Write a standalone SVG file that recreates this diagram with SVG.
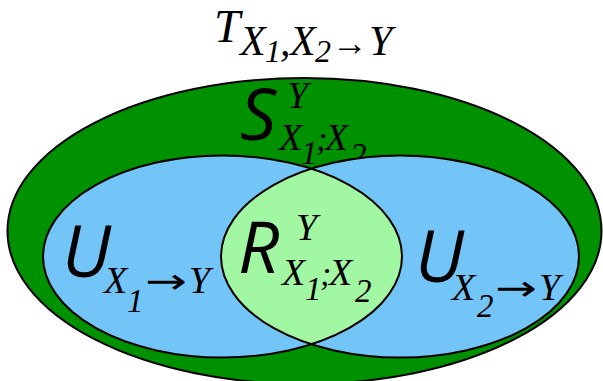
<svg xmlns="http://www.w3.org/2000/svg" width="603" height="381" viewBox="0 0 603 381">
<style>
.ell{stroke:#000;stroke-width:2}
.lbl{font-family:"Open Sans","DejaVu Sans",sans-serif;font-style:italic;fill:#000}
.big{font-size:72px}
.sub{font-family:"Liberation Serif","Times New Roman",serif;font-size:38px}
.semi{font-family:"Liberation Serif","Times New Roman",serif;font-size:34px}
.dig{font-family:"Liberation Serif","Times New Roman",serif;font-size:33px}
.arr{font-family:"DejaVu Sans",sans-serif;font-style:normal;font-size:35px}
.ttl{font-family:"Liberation Serif","Times New Roman",serif;font-style:italic;fill:#000}
</style>
<defs>
<clipPath id="clipL"><ellipse cx="222.5" cy="256.5" rx="179.5" ry="101"/></clipPath>
</defs>
<rect width="603" height="381" fill="#fff"/>
<g id="total">
<ellipse class="ell" cx="304.5" cy="231" rx="297" ry="153" fill="#009100"/>
<text class="lbl"><tspan class="big" x="240" y="140">S</tspan><tspan class="sub" x="287" y="108">Y</tspan></text>
<text class="lbl"><tspan class="sub" x="279" y="150">X</tspan><tspan class="dig" x="301" y="164">1</tspan><tspan class="semi" x="316" y="150">;</tspan><tspan class="sub" x="325" y="150">X</tspan><tspan class="dig" x="350" y="166">2</tspan></text>
</g>
<g id="unique1">
<ellipse cx="222.5" cy="256.5" rx="179.5" ry="101" fill="#73c5f8"/>
</g>
<g id="unique2">
<ellipse cx="400" cy="256.5" rx="179" ry="101" fill="#73c5f8"/>
</g>
<g id="redundant">
<ellipse cx="400" cy="256.5" rx="179" ry="101" fill="#a2f7a2" clip-path="url(#clipL)"/>
</g>
<g id="outlines">
<ellipse class="ell" cx="222.5" cy="256.5" rx="179.5" ry="101" fill="none"/>
<ellipse class="ell" cx="400" cy="256.5" rx="179" ry="101" fill="none"/>
</g>
<g id="labels">
<text class="lbl"><tspan class="big" x="62" y="277">U</tspan></text>
<text class="lbl"><tspan class="sub" x="104" y="293">X</tspan><tspan class="dig" x="127" y="312">1</tspan><tspan class="arr" x="145" y="293" textLength="42" lengthAdjust="spacingAndGlyphs">→</tspan><tspan class="sub" x="189" y="293">Y</tspan></text>
<text class="lbl"><tspan class="big" x="238" y="273">R</tspan><tspan class="sub" x="296" y="240">Y</tspan></text>
<text class="lbl"><tspan class="sub" x="282" y="285">X</tspan><tspan class="dig" x="305" y="300">1</tspan><tspan class="semi" x="320" y="285">;</tspan><tspan class="sub" x="329" y="285">X</tspan><tspan class="dig" x="355" y="302">2</tspan></text>
<text class="lbl"><tspan class="big" x="415" y="282">U</tspan></text>
<text class="lbl"><tspan class="sub" x="452" y="300">X</tspan><tspan class="dig" x="477" y="317">2</tspan><tspan class="arr" x="495" y="300" textLength="42" lengthAdjust="spacingAndGlyphs">→</tspan><tspan class="sub" x="539" y="300">Y</tspan></text>
</g>
<g id="title">
<text class="ttl"><tspan x="214" y="42" font-size="47">T</tspan><tspan x="240" y="55" font-size="42">X</tspan><tspan x="265" y="62" font-size="32">1</tspan><tspan x="280" y="55" font-size="42">,</tspan><tspan x="290" y="55" font-size="42">X</tspan><tspan x="315" y="62" font-size="32">2</tspan><tspan x="332" y="55" font-size="36">→</tspan><tspan x="369" y="55" font-size="42">Y</tspan></text>
</g>
</svg>
